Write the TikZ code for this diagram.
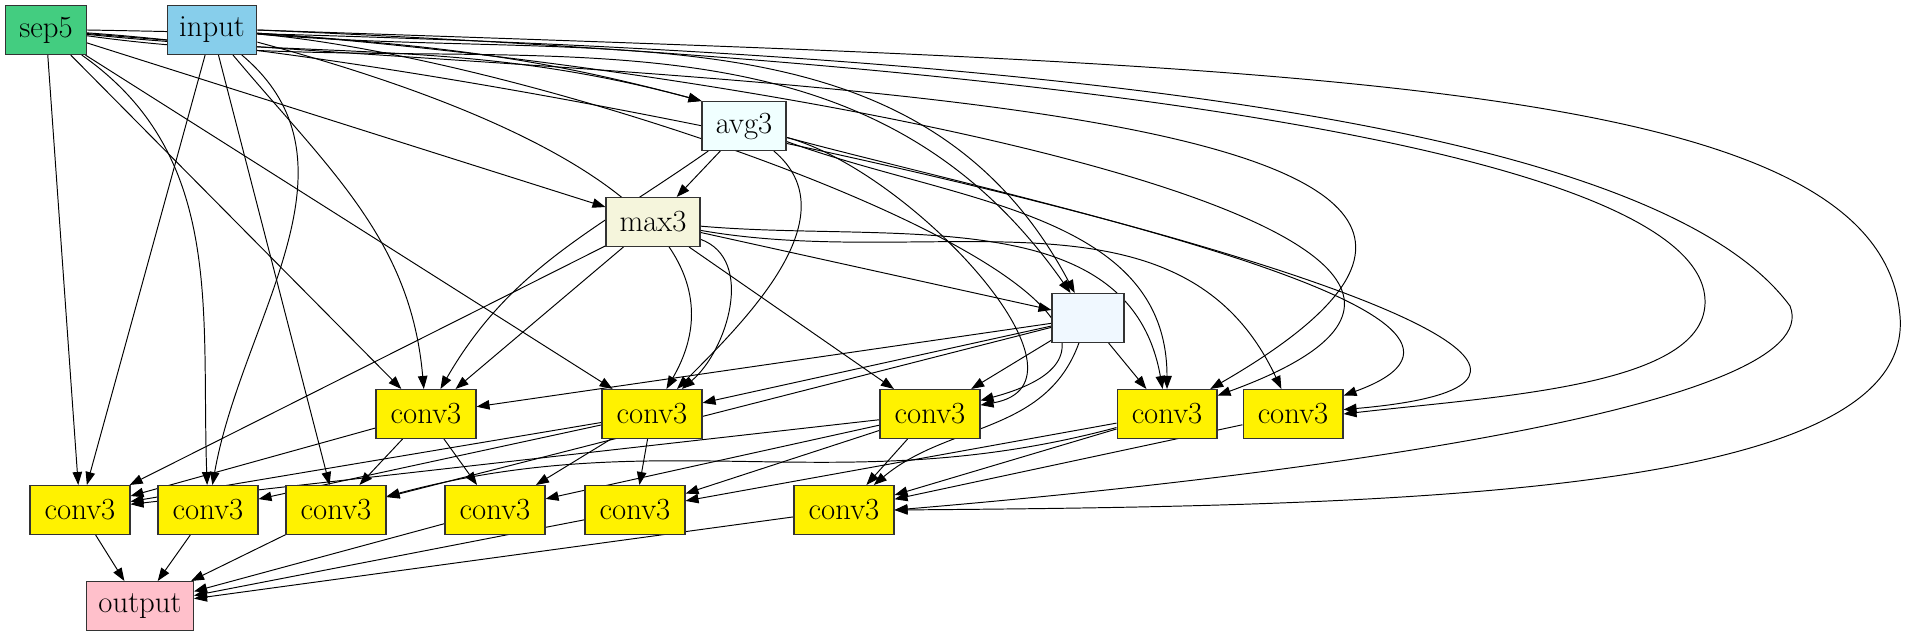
\documentclass[tikz,border=0pt]{standalone}
\usepackage{tikz}
\usetikzlibrary{arrows.meta, backgrounds}
\definecolor{cSea}{RGB}{67,205,128}
\definecolor{cSky}{RGB}{135,206,235}
\definecolor{cAzure}{RGB}{240,255,255}
\definecolor{cBeige}{RGB}{245,245,220}
\definecolor{cAlice}{RGB}{240,248,255}
\definecolor{cPink}{RGB}{255,192,203}
\tikzset{
  opbox/.style={rectangle, draw=black!80, line width=0.6pt, inner xsep=0.24cm,
                minimum height=0.98cm, font=\fontsize{17.5}{20}\selectfont},
  sepnode/.style={opbox, fill=cSea, minimum width=1.62cm},
  innode/.style={opbox, fill=cSky, minimum width=1.74cm},
  avgnode/.style={opbox, fill=cAzure, minimum width=1.68cm},
  maxnode/.style={opbox, fill=cBeige, minimum width=1.88cm},
  idnode/.style={opbox, fill=cAlice, minimum width=1.44cm},
  convnode/.style={opbox, fill=yellow, minimum width=2cm},
  outnode/.style={opbox, fill=cPink, minimum width=2.06cm},
  edge/.style={-{Triangle[length=0.26cm, width=0.19cm]}, line width=0.55pt, black}
}
\begin{document}
\begin{tikzpicture}[x=0.02cm, y=0.02cm]
  \useasboundingbox (0,0) rectangle (1932,636);

  \node[sepnode] (sep) at (46,606) {sep5};
  \node[innode] (inp) at (212,606) {input};
  \node[avgnode] (avg) at (744,510) {avg3};
  \node[maxnode] (max) at (653,414) {max3};
  \node[idnode] (ident) at (1088,318) {};

  \node[convnode] (ca) at (426,222) {conv3};
  \node[convnode] (cb) at (652,222) {conv3};
  \node[convnode] (cc) at (930,222) {conv3};
  \node[convnode] (cd) at (1167,222) {conv3};
  \node[convnode] (ce) at (1293,222) {conv3};

  \node[convnode] (cf) at (80,126) {conv3};
  \node[convnode] (cg) at (208,126) {conv3};
  \node[convnode] (ch) at (336,126) {conv3};
  \node[convnode] (ci) at (495,126) {conv3};
  \node[convnode] (cj) at (635,126) {conv3};
  \node[convnode] (ck) at (844,126) {conv3};

  \node[outnode] (out) at (140,30) {output};

  \begin{scope}[on background layer]
  \draw[edge] (sep) to[out=-6,in=165] (avg.north west);
  \draw[edge] (inp) to[out=-4,in=165] (avg.north west);
  \draw[edge] (sep) -- (max);
  \draw[edge] (avg) -- (max);
  \draw[edge] (sep) to[out=-8,in=125] (ident);
  \draw[edge] (inp) to[out=-5,in=118] (ident);
  \draw[edge] (max) -- (ident);

  \draw[edge] (sep) -- (ca);
  \draw[edge] (inp) to[out=-50,in=95] (ca);
  \draw[edge] (avg) to[out=215,in=60] (ca);
  \draw[edge] (max) -- (ca);
  \draw[edge] (ident) -- (ca);
  \draw[edge] (sep) -- (cb);
  \draw[edge] (inp) to[out=-15,in=60] (cb);
  \draw[edge] (avg) to[out=-40,in=45] (cb);
  \draw[edge] (max) to[out=-20,in=40] (cb);
  \draw[edge] (ident) -- (cb);
  \draw[edge] (max) -- (cc);
  \draw[edge] (ident) -- (cc);
  \draw[edge] (avg) to[out=-15,in=10] (cc);
  \draw[edge] (inp) to[out=-5,in=15] (cc);
  \draw[edge] (ident) -- (cd);
  \draw[edge] (avg) to[out=-20,in=90] (cd);
  \draw[edge] (sep) to[out=-5,in=30,looseness=1.3] (cd);
  \draw[edge] (inp) to[out=-4,in=20,looseness=1.2] (cd);
  \draw[edge] (max) to[out=-5,in=100] (cd);
  \draw[edge] (max) to[out=-10,in=115] (ce);
  \draw[edge] (avg) to[out=-15,in=20] (ce);
  \draw[edge] (sep) to[out=-4,in=5] (ce);
  \draw[edge] (inp.east) .. controls (1100,570) and (1700,480) .. (1705,336)
      .. controls (1708,250) and (1500,240) .. (ce.east);

  \draw[edge] (sep) -- (cf);
  \draw[edge] (inp) -- (cf);
  \draw[edge] (max) -- (cf);
  \draw[edge] (ca) -- (cf);
  \draw[edge] (cb) -- (cf);
  \draw[edge] (cc) -- (cf);
  \draw[edge] (sep) to[out=-35,in=92] (cg);
  \draw[edge] (inp) to[out=-40,in=80] (cg);
  \draw[edge] (cb) -- (cg);
  \draw[edge] (inp) -- (ch);
  \draw[edge] (ca) -- (ch);
  \draw[edge] (cd) to[out=195,in=15] (ch);
  \draw[edge] (ident) -- (ch);
  \draw[edge] (ca) -- (ci);
  \draw[edge] (cb) -- (ci);
  \draw[edge] (cc) -- (ci);
  \draw[edge] (cb) -- (cj);
  \draw[edge] (cc) -- (cj);
  \draw[edge] (cd) -- (cj);
  \draw[edge] (cc) -- (ck);
  \draw[edge] (ident) to[out=-110,in=40] (ck);
  \draw[edge] (cd) -- (ck);
  \draw[edge] (ce) -- (ck);
  \draw[edge] (sep.east) .. controls (1000,590) and (1650,520) .. (1790,330)
      .. controls (1830,230) and (1300,160) .. (ck.east);
  \draw[edge] (inp.east) .. controls (1300,570) and (1880,560) .. (1900,320)
      .. controls (1915,140) and (1400,130) .. (ck.east);

  \draw[edge] (cf) -- (out);
  \draw[edge] (cg) -- (out);
  \draw[edge] (ch) -- (out);
  \draw[edge] (ci) -- (out);
  \draw[edge] (cj) -- (out);
  \draw[edge] (ck) -- (out);
  \end{scope}
\end{tikzpicture}
\end{document}
